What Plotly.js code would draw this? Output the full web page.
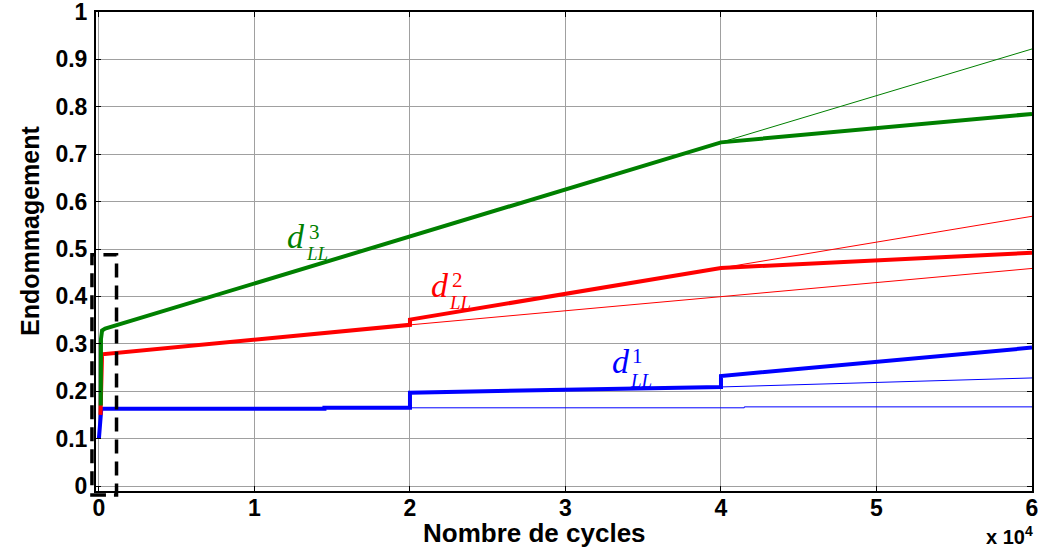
<!DOCTYPE html>
<html>
<head>
<meta charset="utf-8">
<script src="https://cdn.plot.ly/plotly-3.0.1.min.js"></script>
<style>html,body{margin:0;padding:0;background:#fff;}#chart{width:1038px;height:550px;}</style>
</head>
<body>
<div id="chart"></div>
<script>
// x values in units of 10^4 cycles
const blueThickX = [0, 0.008, 0.015, 1.45, 1.45, 2.0, 2.0, 4.0, 4.0, 6.0];
const blueThickY = [0.101, 0.155, 0.163, 0.163, 0.165, 0.165, 0.197, 0.209, 0.232, 0.292];
const blueThinAX = [2.0, 4.15, 4.15, 6.0];
const blueThinAY = [0.165, 0.165, 0.167, 0.167];
const blueThinBX = [4.0, 6.0];
const blueThinBY = [0.209, 0.228];

const redThickX = [0.01, 0.012, 0.02, 2.0, 2.0, 4.0, 6.0];
const redThickY = [0.150, 0.200, 0.278, 0.340, 0.351, 0.460, 0.492];
const redThinAX = [2.0, 6.0];
const redThinAY = [0.340, 0.459];
const redThinBX = [4.0, 6.0];
const redThinBY = [0.460, 0.569];

const greenThickX = [0.012, 0.013, 0.02, 0.04, 4.0, 6.0];
const greenThickY = [0.170, 0.310, 0.328, 0.332, 0.725, 0.785];
const greenThinX = [4.0, 6.0];
const greenThinY = [0.725, 0.922];

// dashed zoom rectangle (data units)
const rectX = [-0.045, 0.113];
const rectY = [-0.019, 0.488];

const xTicks = [0, 1, 2, 3, 4, 5, 6];
const xTickLabels = ['0', '1', '2', '3', '4', '5', '6'];
const yTicks = [0, 0.1, 0.2, 0.3, 0.4, 0.5, 0.6, 0.7, 0.8, 0.9, 1];
const yTickLabels = ['0', '0.1', '0.2', '0.3', '0.4', '0.5', '0.6', '0.7', '0.8', '0.9', '1'];

// curve labels: [x, y] of "d", superscript, subscript
const labelNames = ['1', '2', '3'];
const labelColors = ['#0000FF', '#FF0000', '#008000'];
const labelD = [[3.357, 0.262], [2.193, 0.423], [1.267, 0.526]];
const labelSup = [[3.462, 0.274], [2.305, 0.434], [1.385, 0.536]];
const labelSub = [[3.487, 0.222], [2.324, 0.388], [1.402, 0.490]];

const xRange = [-0.019, 6];
const yRange = [-0.0105, 1];

const BLUE = '#0000FF', RED = '#FF0000', GREEN = '#008000';
function tr(x, y, color, width) {
  return {x: x, y: y, type: 'scatter', mode: 'lines', line: {color: color, width: width}, hoverinfo: 'skip', showlegend: false};
}
const data = [
  tr(blueThinAX, blueThinAY, BLUE, 1),
  tr(blueThinBX, blueThinBY, BLUE, 1),
  tr(redThinAX, redThinAY, RED, 1),
  tr(redThinBX, redThinBY, RED, 1),
  tr(greenThinX, greenThinY, GREEN, 1),
  tr(blueThickX, blueThickY, BLUE, 4),
  tr(redThickX, redThickY, RED, 4),
  tr(greenThickX, greenThickY, GREEN, 4)
];

const SERIF = 'Liberation Serif, Times New Roman, serif';
const SANS = 'Liberation Sans, Arial, sans-serif';
const annotations = [];
for (let i = 0; i < labelNames.length; i++) {
  annotations.push({x: labelD[i][0], y: labelD[i][1], xref: 'x', yref: 'y', text: 'd', showarrow: false,
    font: {family: SERIF, size: 34, color: labelColors[i], style: 'italic'}});
  annotations.push({x: labelSup[i][0], y: labelSup[i][1], xref: 'x', yref: 'y', text: labelNames[i], showarrow: false,
    font: {family: SERIF, size: 21, color: labelColors[i]}});
  annotations.push({x: labelSub[i][0], y: labelSub[i][1], xref: 'x', yref: 'y', text: 'LL', showarrow: false,
    font: {family: SERIF, size: 19, color: labelColors[i], style: 'italic'}});
}
annotations.push({xref: 'paper', yref: 'paper', x: 0.469, y: -0.087, text: 'Nombre de cycles', showarrow: false,
  xanchor: 'center', yanchor: 'middle', font: {family: SANS, size: 26, color: '#000', weight: 700}});
annotations.push({xref: 'paper', yref: 'paper', x: -0.0705, y: 0.543, text: 'Endommagement', textangle: -90, showarrow: false,
  xanchor: 'center', yanchor: 'middle', font: {family: SANS, size: 25, color: '#000', weight: 700}});
annotations.push({xref: 'paper', yref: 'paper', x: 1.003, y: -0.1225, text: 'x 10<sup>4</sup>', showarrow: false,
  xanchor: 'right', yanchor: 'bottom', font: {family: SANS, size: 20, color: '#000', weight: 700}});

function px(v) { return (v - xRange[0]) / (xRange[1] - xRange[0]); }
function py(v) { return (v - yRange[0]) / (yRange[1] - yRange[0]); }
const shapes = [{type: 'rect', xref: 'paper', yref: 'paper', x0: px(rectX[0]), x1: px(rectX[1]), y0: py(rectY[0]), y1: py(rectY[1]),
  line: {color: '#000', width: 3.5, dash: '14px,8px'}, fillcolor: 'rgba(0,0,0,0)', layer: 'above'}];

const axisCommon = {
  showline: true, linecolor: '#000', linewidth: 2, mirror: 'ticks',
  ticks: 'inside', ticklen: 5, tickcolor: '#000', tickwidth: 1,
  showgrid: true, gridcolor: '#a0a0a0', gridwidth: 1, zeroline: false,
  ticklabeloverflow: 'allow',
  tickfont: {family: SANS, size: 23, color: '#000', weight: 700}
};
const layout = {
  width: 1038, height: 550,
  margin: {l: 96, r: 6, t: 12, b: 59},
  paper_bgcolor: '#fff', plot_bgcolor: '#fff',
  showlegend: false,
  xaxis: Object.assign({}, axisCommon, {range: xRange, tickvals: xTicks, ticktext: xTickLabels, ticklabelstandoff: -5}),
  yaxis: Object.assign({}, axisCommon, {range: yRange, tickvals: yTicks, ticktext: yTickLabels, ticklabelstandoff: 2}),
  annotations: annotations,
  shapes: shapes
};
Plotly.newPlot('chart', data, layout, {staticPlot: true, displayModeBar: false});
</script>
</body>
</html>
